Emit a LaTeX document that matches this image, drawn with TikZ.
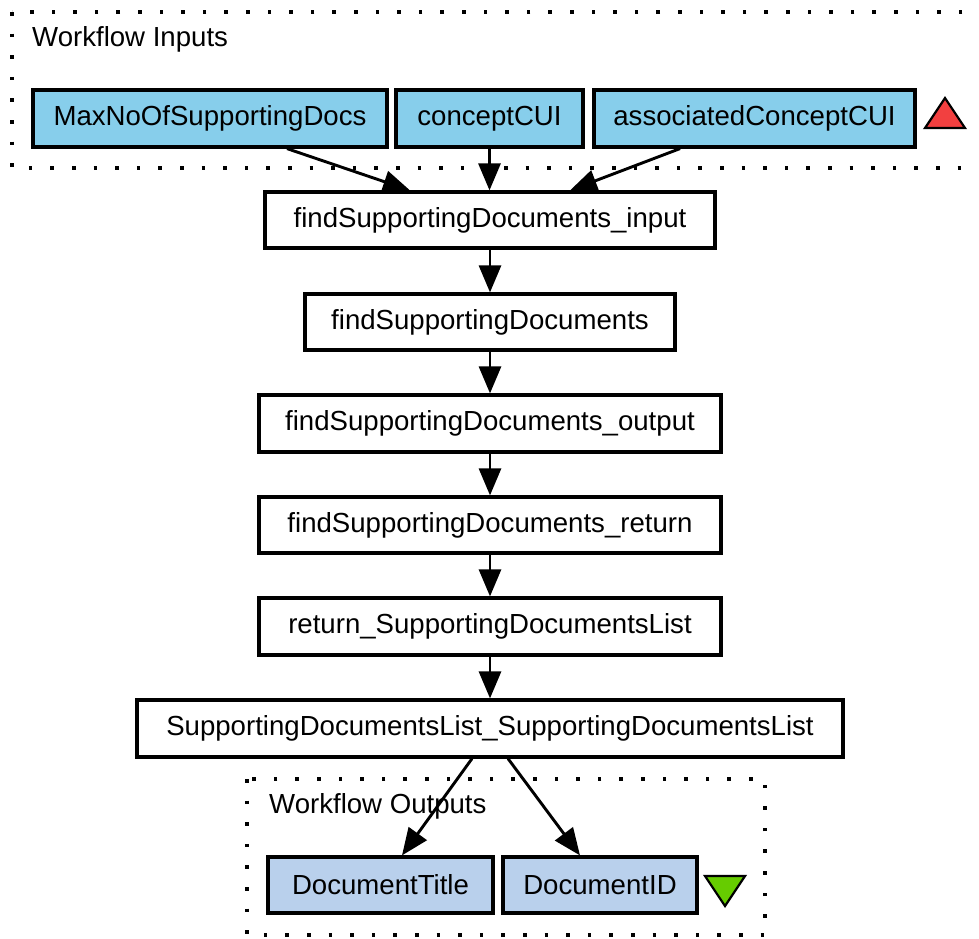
\documentclass[tikz,border=0pt]{standalone}
\usepackage{fontspec}
\setmainfont{Liberation Sans}
\usetikzlibrary{arrows.meta}

\definecolor{inblue}{HTML}{87CEEB}
\definecolor{outblue}{HTML}{B9D0EC}
\definecolor{inred}{HTML}{F24040}
\definecolor{outgreen}{HTML}{66CC00}

\tikzset{
  lbl/.style={font=\fontsize{27.6}{33}\selectfont},
  box/.style={draw=black, line width=3.2pt, rectangle, inner sep=0pt,
              minimum height=56pt, lbl},
  inbox/.style={box, fill=inblue},
  outbox/.style={box, fill=outblue},
  procbox/.style={box, fill=white},
  cluster/.style={draw=black, line width=3.6pt, line cap=butt,
                  dash pattern=on 3.6pt off 18pt},
  flow/.style={draw=black, line width=2.9pt,
               -{Triangle[length=27pt,width=22pt]}},
  marker/.style={draw=black, line width=2.2pt, line join=miter}
}

\begin{document}
\begin{tikzpicture}[x=1pt, y=-1pt]
  \clip (0,0) rectangle (979,938);
  \fill[white] (0,0) rectangle (979,938);

  % input and output clusters
  \draw[cluster] (12,12) rectangle (990,168);
  \node[lbl, anchor=base west, inner sep=0pt] (inlabel) at (32,46) {Workflow Inputs};
  \draw[cluster] (247,779) rectangle (765,935);
  \node[lbl, anchor=base west, inner sep=0pt] (outlabel) at (269,813) {Workflow Outputs};

  % workflow input ports
  \node[inbox, minimum width=354pt, minimum height=57pt] (max)  at (210,118.5) {MaxNoOfSupportingDocs};
  \node[inbox, minimum width=187pt, minimum height=57pt] (cui)  at (489.5,118.5) {conceptCUI};
  \node[inbox, minimum width=321pt, minimum height=57pt] (acui) at (754.5,118.5) {associatedConceptCUI};

  % processing chain
  \node[procbox, minimum width=450pt] (fin)  at (490,220) {findSupportingDocuments\_input};
  \node[procbox, minimum width=370pt] (fsd)  at (490,322) {findSupportingDocuments};
  \node[procbox, minimum width=462pt, minimum height=57pt] (fout) at (490,423.5) {findSupportingDocuments\_output};
  \node[procbox, minimum width=462pt] (fret) at (490,525) {findSupportingDocuments\_return};
  \node[procbox, minimum width=462pt, minimum height=57pt] (rsdl) at (490,626.5) {return\_SupportingDocumentsList};
  \node[procbox, minimum width=706pt, minimum height=57pt] (sdl)  at (490,728.5) {SupportingDocumentsList\_SupportingDocumentsList};

  % workflow output ports
  \node[outbox, minimum width=225pt] (dt)  at (380.5,885) {DocumentTitle};
  \node[outbox, minimum width=194pt] (did) at (600,885) {DocumentID};

  % port markers
  \draw[marker, fill=inred] (925,128) -- (965,128) -- (945,98) -- cycle;
  \draw[marker, fill=outgreen] (705,876) -- (745,876) -- (725,906) -- cycle;

  % connectors
  \draw[flow] ([xshift=77pt]max.south) -- ([xshift=-80pt]fin.north);
  \draw[flow] (cui.south) -- (cui.south |- fin.north);
  \draw[flow] ([xshift=-74.5pt]acui.south) -- ([xshift=80pt]fin.north);
  \draw[flow] (fin) -- (fsd);
  \draw[flow] (fsd) -- (fout);
  \draw[flow] (fout) -- (fret);
  \draw[flow] (fret) -- (rsdl);
  \draw[flow] (rsdl) -- (sdl);
  \draw[flow] ([xshift=-18pt]sdl.south) -- ([xshift=21.5pt]dt.north);
  \draw[flow] ([xshift=18pt]sdl.south) -- ([xshift=-20pt]did.north);
\end{tikzpicture}
\end{document}
